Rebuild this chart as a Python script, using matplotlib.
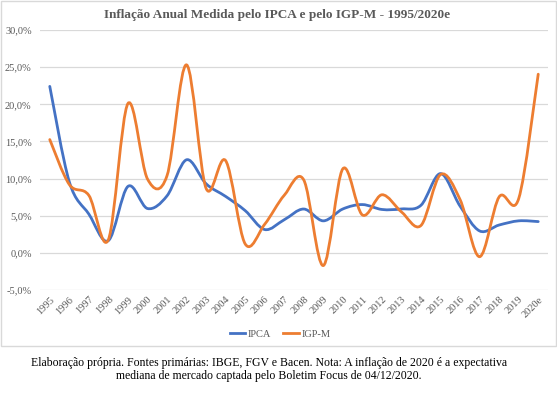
import numpy as np
import matplotlib.pyplot as plt
from matplotlib.path import Path
from matplotlib.patches import PathPatch, Rectangle
from matplotlib.lines import Line2D
from matplotlib.ticker import FuncFormatter

years = ['1995', '1996', '1997', '1998', '1999', '2000', '2001', '2002', '2003',
         '2004', '2005', '2006', '2007', '2008', '2009', '2010', '2011', '2012',
         '2013', '2014', '2015', '2016', '2017', '2018', '2019', '2020e']
ipca = [22.41, 9.56, 5.22, 1.65, 8.94, 5.97, 7.67, 12.53, 9.30, 7.60, 5.69, 3.14,
        4.46, 5.90, 4.31, 5.91, 6.50, 5.84, 5.91, 6.41, 10.67, 6.29, 2.95, 3.75,
        4.31, 4.21]
igpm = [15.25, 9.20, 7.74, 1.78, 20.10, 9.95, 10.38, 25.31, 8.69, 12.42, 1.21,
        3.85, 7.75, 9.81, -1.71, 11.32, 5.10, 7.82, 5.51, 3.69, 10.54, 7.17, -0.52,
        7.54, 7.30, 24.05]

BLUE = '#4472C4'
ORANGE = '#ED7D31'
GRAY = '#595959'
SERIF = ['Liberation Serif', 'DejaVu Serif']


def smooth_path(x, y, tension=1 / 6):
    # bezier through the points, like the "smoothed line" option in Excel
    x = np.asarray(x, float)
    y = np.asarray(y, float)
    n = len(x)
    verts = [(x[0], y[0])]
    codes = [Path.MOVETO]
    for i in range(n - 1):
        i0 = max(i - 1, 0)
        i3 = min(i + 2, n - 1)
        c1 = (x[i] + (x[i + 1] - x[i0]) * tension, y[i] + (y[i + 1] - y[i0]) * tension)
        c2 = (x[i + 1] - (x[i3] - x[i]) * tension, y[i + 1] - (y[i3] - y[i]) * tension)
        verts += [c1, c2, (x[i + 1], y[i + 1])]
        codes += [Path.CURVE4] * 3
    return Path(verts, codes)


fig = plt.figure(figsize=(5.57, 3.95), dpi=100)
# light frame around the chart area (caption sits outside it)
fig.patches.append(Rectangle((0.5 / 557, 1 - 346 / 395), 555.5 / 557, 345 / 395,
                             transform=fig.transFigure, fill=False,
                             edgecolor='#D9D9D9', linewidth=1))

ax = fig.add_axes([40 / 557, 1 - 290 / 395, 508 / 557, 260 / 395])
x = np.arange(len(years))
for vals, color in [(ipca, BLUE), (igpm, ORANGE)]:
    ax.add_patch(PathPatch(smooth_path(x, vals), facecolor='none', edgecolor=color,
                           linewidth=2.0, capstyle='round', joinstyle='round'))

ax.set_xlim(-0.5, len(years) - 0.5)
ax.set_ylim(-5, 30)
ax.set_yticks(np.arange(-5, 31, 5))
ax.yaxis.set_major_formatter(FuncFormatter(lambda v, p: f'{v:.1f}%'.replace('.', ',')))
ax.grid(axis='y', color='#D9D9D9', linewidth=0.9)
ax.set_axisbelow(True)
for s in ax.spines.values():
    s.set_visible(False)
ax.tick_params(axis='both', length=0, colors=GRAY, labelsize=7.5)
ax.tick_params(axis='y', pad=6)
ax.set_xticks(x)
ax.set_xticklabels(years, rotation=45, ha='right', va='top', rotation_mode='anchor',
                   fontsize=7.5)
for lbl in ax.get_xticklabels() + ax.get_yticklabels():
    lbl.set_family(SERIF)

fig.text(277 / 557, 1 - 15 / 395, 'Inflação Anual Medida pelo IPCA e pelo IGP-M - 1995/2020e',
         ha='center', va='center', fontsize=9.5, fontweight='bold', color=GRAY,
         family=SERIF)

handles = [Line2D([], [], color=BLUE, linewidth=2), Line2D([], [], color=ORANGE, linewidth=2)]
fig.legend(handles, ['IPCA', 'IGP-M'], loc='center', bbox_to_anchor=(280 / 557, 1 - 334 / 395),
           ncol=2, frameon=False, handlelength=1.5, handletextpad=0.2, columnspacing=1.2,
           prop={'family': SERIF, 'size': 7.5}, labelcolor=GRAY)

fig.text(269 / 557, 1 - 369.5 / 395,
         'Elaboração própria. Fontes primárias: IBGE, FGV e Bacen. Nota: A inflação de 2020 é a expectativa\n'
         'mediana de mercado captada pelo Boletim Focus de 04/12/2020.',
         ha='center', va='center', fontsize=8.5, color='black', family=SERIF, linespacing=1.05)

fig.savefig('out.png', dpi=100)
